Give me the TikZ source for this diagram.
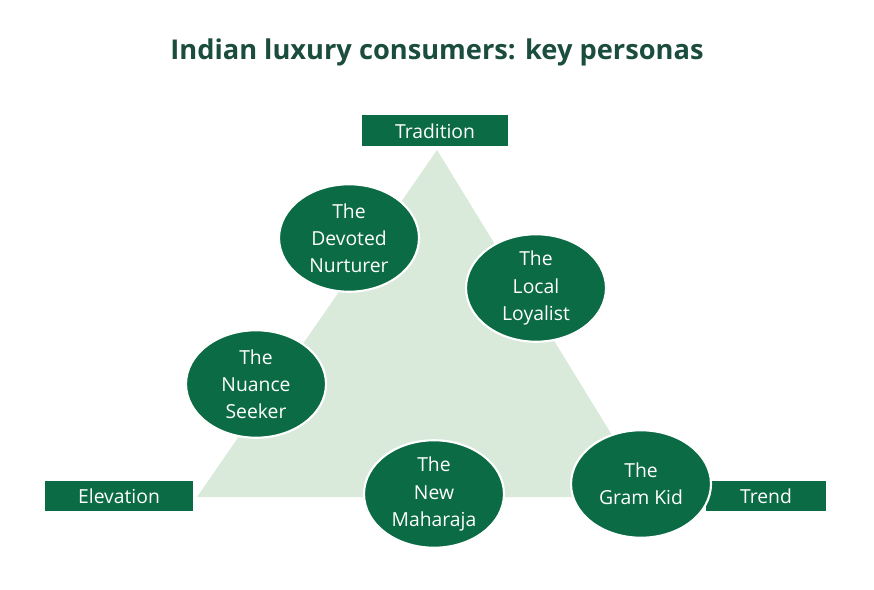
\documentclass[tikz,border=0pt]{standalone}
\usepackage{fontspec}
\setmainfont{Open Sans}
\usetikzlibrary{shapes.geometric}
\definecolor{dkgreen}{HTML}{0B6B45}
\definecolor{ltgreen}{HTML}{D9EADB}
\definecolor{titlegreen}{HTML}{1B4D3E}
\begin{document}
\begin{tikzpicture}[x=0.02cm,y=-0.02cm]
\tikzset{axisbox/.style={fill=dkgreen, text=white, minimum height=0.62cm, font=\fontsize{11}{13}\selectfont},
  persona/.style={ellipse, fill=dkgreen, draw=white, line width=1.2pt, text=white, align=center,
    minimum width=2.8cm, minimum height=2.15cm, inner sep=0pt, font=\fontsize{11}{15.5}\selectfont}}
\useasboundingbox (0,0) rectangle (874,590);
\node[text=titlegreen, font=\bfseries\fontsize{15.5}{18}\selectfont] (title) at (437,52) {Indian luxury consumers: key personas};
\coordinate (apex) at (437,150);
\coordinate (lft) at (197,497);
\coordinate (rgt) at (650,497);
\fill[ltgreen] (apex) -- (lft) -- (rgt) -- cycle;
\node[axisbox, minimum width=2.92cm] (trad) at (435,131) {Tradition};
\node[axisbox, minimum width=2.96cm] (elev) at (119,496) {Elevation};
\node[axisbox, minimum width=2.4cm] (trend) at (766,496) {Trend};
\node[persona] (devoted) at (349,238) {The\\Devoted\\Nurturer};
\node[persona] (local) at (536,288) {The\\Local\\Loyalist};
\node[persona] (nuance) at (256,384) {The\\Nuance\\Seeker};
\node[persona] (maharaja) at (434,494) {The\\New\\Maharaja};
\node[persona] (gram) at (641,484) {The\\Gram Kid};
\end{tikzpicture}
\end{document}
